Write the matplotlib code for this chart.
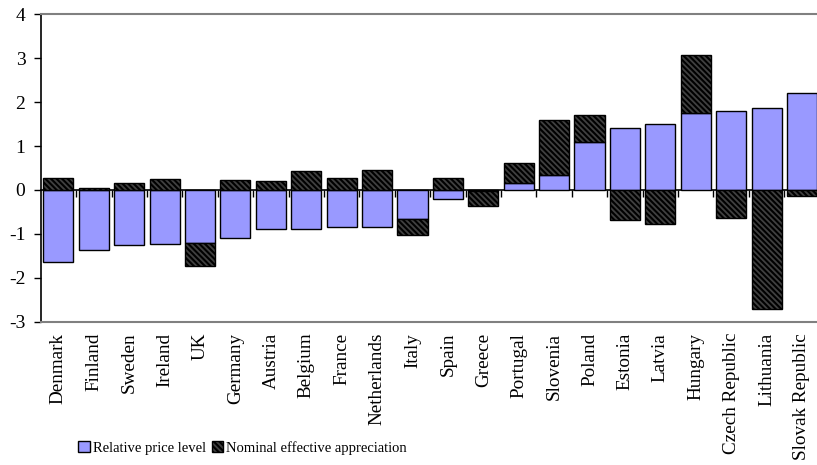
import numpy as np
from matplotlib import pyplot as plt
from matplotlib.patches import Patch

plt.rcParams['font.family'] = ['Liberation Serif', 'DejaVu Serif']
plt.rcParams['axes.unicode_minus'] = False
plt.rcParams['hatch.linewidth'] = 1.5

# Data
countries = ['Denmark', 'Finland', 'Sweden', 'Ireland', 'UK', 'Germany', 'Austria',
             'Belgium', 'France', 'Netherlands', 'Italy', 'Spain', 'Greece', 'Portugal',
             'Slovenia', 'Poland', 'Estonia', 'Latvia', 'Hungary', 'Czech Republic',
             'Lithuania', 'Slovak Republic']
price_level = [-1.65, -1.37, -1.25, -1.22, -1.21, -1.10, -0.90, -0.88, -0.85, -0.84,
               -0.65, -0.20, -0.02, 0.15, 0.33, 1.10, 1.42, 1.50, 1.76, 1.80, 1.86, 2.20]
appreciation = [0.27, 0.05, 0.16, 0.24, -0.53, 0.235, 0.21, 0.43, 0.27, 0.46,
                -0.37, 0.28, -0.34, 0.46, 1.26, 0.60, -0.68, -0.78, 1.31, -0.63, -2.72, -0.13]

price_level = np.array(price_level)
appreciation = np.array(appreciation)
x = np.arange(len(countries))

# Excel-style stacking: same-sign values stack, opposite signs start from zero
bottom = np.where(np.sign(appreciation) == np.sign(price_level), price_level, 0)

fig = plt.figure(figsize=(8.17, 4.65), dpi=100)
ax = fig.add_axes([40.7 / 817, 1 - 321.7 / 465, 779 / 817, 307.4 / 465])

hatch = '\\\\\\\\\\\\'
ax.bar(x, price_level, width=0.85, color='#9999FF', edgecolor='black', linewidth=1, zorder=2)
ax.bar(x, appreciation, bottom=bottom, width=0.85, color='#404040', edgecolor='black',
       hatch=hatch, linewidth=1, zorder=2)

ax.set_xlim(-0.5, len(countries) - 0.5)
ax.set_ylim(-3, 4)
ax.set_yticks(np.arange(-3, 5, 1))
ax.tick_params(axis='y', direction='out', length=5, width=1, labelsize=14, pad=6)

ax.set_xticks(x)
ax.set_xticklabels(countries, rotation=90, fontsize=13.8)
ax.tick_params(axis='x', length=0, pad=8)

for s in ['top', 'bottom']:
    ax.spines[s].set_color('#808080')
    ax.spines[s].set_linewidth(1.5)
ax.spines['right'].set_visible(False)
ax.spines['left'].set_linewidth(1.2)

# category axis crossing at zero
zero = ax.secondary_xaxis(3 / 7)
zero.set_xticks(x[:-1] + 0.5)
zero.set_xticklabels([])
zero.tick_params(axis='x', direction='out', length=5, width=1)
zero.spines['bottom'].set_linewidth(1.2)

legend_elements = [
    Patch(facecolor='#9999FF', edgecolor='black', label='Relative price level'),
    Patch(facecolor='#404040', edgecolor='black', hatch=hatch, label='Nominal effective appreciation'),
]
fig.legend(handles=legend_elements, loc='center', bbox_to_anchor=(0.297, 0.037), ncol=2,
           frameon=False, fontsize=10.5, handlelength=0.8, handleheight=0.8,
           handletextpad=0.2, columnspacing=0.4)

fig.savefig('out.png', dpi=100)
